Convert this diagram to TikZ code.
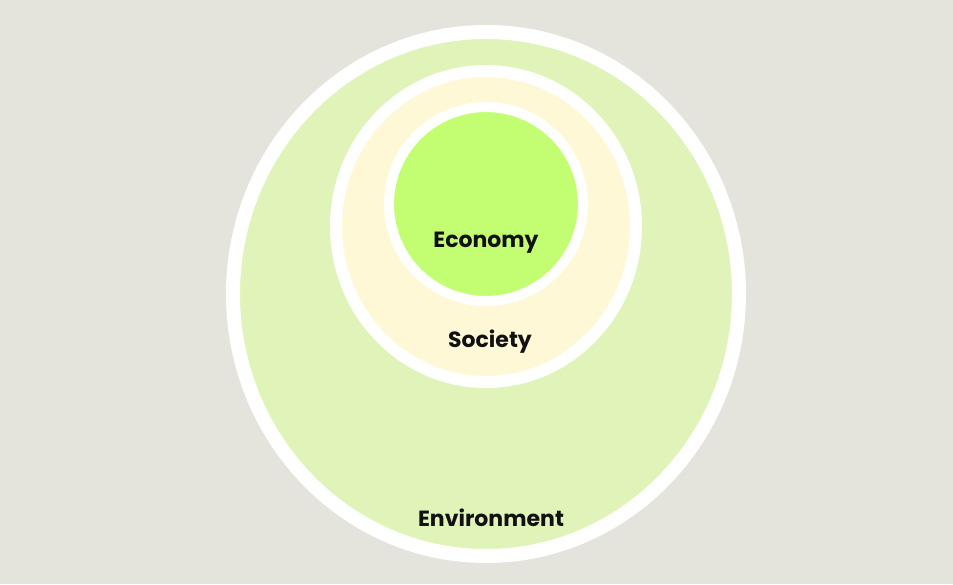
\documentclass[tikz,border=0pt]{standalone}
\usepackage{fontspec}
\setmainfont{Poppins}
\usetikzlibrary{shapes.geometric}
\definecolor{bg}{HTML}{E4E4DC}
\definecolor{envgreen}{HTML}{E0F4B9}
\definecolor{socyellow}{HTML}{FFF8D6}
\definecolor{ecogreen}{HTML}{C3FE72}
\definecolor{txt}{HTML}{111111}
\tikzset{
  ring/.style={ellipse, draw=white, inner sep=0pt, outer sep=0pt},
  lab/.style={font=\fontsize{22}{26}\selectfont\bfseries, text=txt, inner sep=0pt, anchor=center}
}
\begin{document}
\begin{tikzpicture}[x=1pt,y=1pt]
\fill[bg] (0,0) rectangle (953,584);
\useasboundingbox (0,0) rectangle (953,584);
\node[ring, fill=envgreen, line width=14pt, minimum width=506pt, minimum height=524pt] (env) at (486,290) {};
\node[ring, fill=socyellow, line width=12pt, minimum width=300pt, minimum height=311pt] (soc) at (486,357.5) {};
\node[ring, fill=ecogreen, line width=10pt, minimum width=194pt, minimum height=194pt] (eco) at (486,380) {};
\node[lab] (ecol) at (486,341) {Economy};
\node[lab] (socl) at (490,242) {Society};
\node[lab] (envl) at (491,66) {Environment};
\end{tikzpicture}
\end{document}
